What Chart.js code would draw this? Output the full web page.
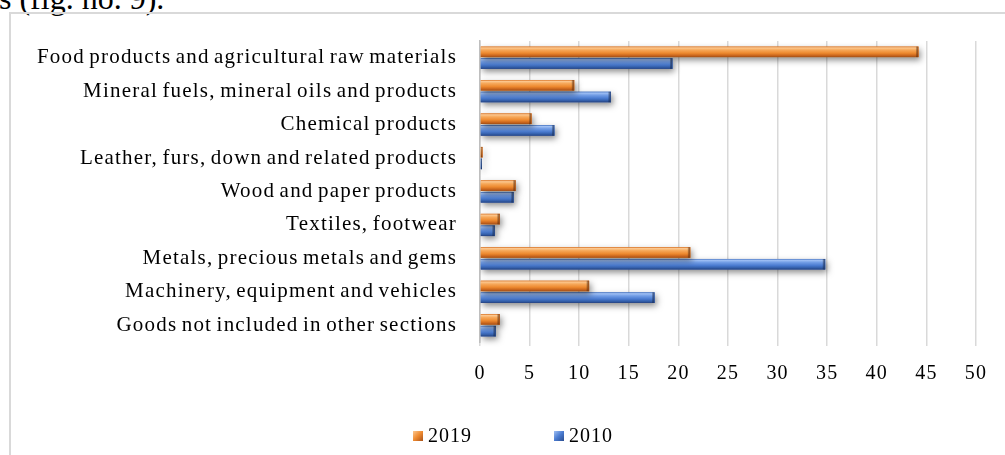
<!DOCTYPE html>
<html>
<head>
<meta charset="utf-8">
<script src="https://cdn.jsdelivr.net/npm/chart.js@4"></script>
<style>
  html, body { margin: 0; padding: 0; background: #fff; overflow: hidden; }
  body { width: 1005px; height: 455px; position: relative; }
  #caption {
    position: absolute; left: -1px; top: -18px;
    font-family: "Liberation Serif", "Times New Roman", serif;
    font-size: 32px; line-height: 32px; color: #000; white-space: nowrap;
  }
  #frame {
    position: absolute; left: 9px; top: 12px; width: 1010px; height: 460px;
    border: 2px solid #d9d9d9; box-sizing: border-box;
  }
  #chart { position: absolute; left: 0; top: 0; }
</style>
</head>
<body>
<div id="caption">s (fig. no. 9).</div>
<div id="frame"></div>
<canvas id="chart" width="1005" height="455"></canvas>
<script>
// Product groups, top to bottom
const categories = [
  'Food products and agricultural raw materials',
  'Mineral fuels, mineral oils and products',
  'Chemical products',
  'Leather, furs, down and related products',
  'Wood and paper products',
  'Textiles, footwear',
  'Metals, precious metals and gems',
  'Machinery, equipment and vehicles',
  'Goods not included in other sections'
];

// Shares by year, %
const values2019 = [44.2, 9.5, 5.2, 0.25, 3.6, 2.0, 21.2, 11.0, 2.0];
const values2010 = [19.4, 13.2, 7.5, 0.2, 3.4, 1.5, 34.8, 17.6, 1.6];

const seriesLabels = ['2019', '2010'];
const xTicks = [0, 5, 10, 15, 20, 25, 30, 35, 40, 45, 50];

const FONT = '"Liberation Serif", "Times New Roman", serif';

// Bevelled fills for each series
const palettes = [
  { base: '#ee8a30', stops: [[0, '#d67429'], [0.12, '#fcc890'], [0.32, '#f6a85a'], [0.62, '#ed892f'], [0.86, '#c6631c'], [1, '#9e4e18']], cap: '#a9531a' },
  { base: '#4a7bd0', stops: [[0, '#4673c0'], [0.12, '#a0c0f4'], [0.32, '#739ee6'], [0.62, '#4a7bd0'], [0.86, '#315ca6'], [1, '#253f7c']], cap: '#2b4d8f' }
];

// Tracked-out letters with tight word gaps for the axis labels
const axisTracking = {
  id: 'axisTracking',
  beforeDraw(chart) {
    chart.ctx.letterSpacing = '1.2px';
    chart.ctx.wordSpacing = '-2px';
  },
  beforeDatasetsDraw(chart) {
    chart.ctx.letterSpacing = '0px';
    chart.ctx.wordSpacing = '0px';
  }
};

// Draws each bar with a soft drop shadow, a vertical bevel gradient and a darker end cap
const bevelBars = {
  id: 'bevelBars',
  beforeDatasetDraw(chart, args) {
    const ctx = chart.ctx;
    const pal = palettes[args.index];
    const area = chart.chartArea;
    ctx.save();
    ctx.beginPath();
    ctx.rect(area.left, area.top - 5, area.right - area.left + 10, area.bottom - area.top + 10);
    ctx.clip();
    args.meta.data.forEach(el => {
      const p = el.getProps(['x', 'y', 'base', 'height'], true);
      const left = Math.min(p.base, p.x);
      const w = Math.abs(p.x - p.base);
      const top = p.y - p.height / 2;
      const h = p.height;
      // shadow
      ctx.save();
      ctx.shadowColor = 'rgba(0,0,0,0.45)';
      ctx.shadowBlur = 6;
      ctx.shadowOffsetX = 2;
      ctx.shadowOffsetY = 3;
      ctx.fillStyle = pal.base;
      ctx.fillRect(left, top, w, h);
      ctx.restore();
      // bevel body
      const g = ctx.createLinearGradient(0, top, 0, top + h);
      pal.stops.forEach(s => g.addColorStop(s[0], s[1]));
      ctx.fillStyle = g;
      ctx.fillRect(left, top, w, h);
      // end cap
      const capW = Math.min(3, w);
      const cg = ctx.createLinearGradient(p.x - capW, 0, p.x, 0);
      cg.addColorStop(0, 'rgba(0,0,0,0)');
      cg.addColorStop(1, pal.cap);
      ctx.fillStyle = cg;
      ctx.fillRect(p.x - capW, top, capW, h);
    });
    ctx.restore();
    return false;
  }
};

// Legend row under the plot
const bottomLegend = {
  id: 'bottomLegend',
  afterDraw(chart) {
    const ctx = chart.ctx;
    const box = 10, gap = 5, itemGap = 82, y = 437, centre = 513;
    ctx.save();
    ctx.letterSpacing = '1px';
    ctx.font = '20px ' + FONT;
    ctx.textBaseline = 'middle';
    const widths = chart.data.datasets.map(d => box + gap + ctx.measureText(d.label).width);
    const total = widths.reduce((a, b) => a + b, 0) + itemGap * (widths.length - 1);
    let x = centre - total / 2;
    chart.data.datasets.forEach((d, i) => {
      const pal = palettes[i];
      const top = y - box / 2 - 1;
      const g = ctx.createLinearGradient(x, top, x + box, top + box);
      g.addColorStop(0, pal.stops[1][1]);
      g.addColorStop(0.5, pal.base);
      g.addColorStop(1, pal.cap);
      ctx.fillStyle = g;
      ctx.fillRect(x, top, box, box);
      ctx.fillStyle = '#000';
      ctx.fillText(d.label, x + box + gap, y);
      x += widths[i] + itemGap;
    });
    ctx.restore();
  }
};

new Chart(document.getElementById('chart'), {
  type: 'bar',
  data: {
    labels: categories,
    datasets: [
      { label: seriesLabels[0], data: values2019, backgroundColor: palettes[0].base },
      { label: seriesLabels[1], data: values2010, backgroundColor: palettes[1].base }
    ]
  },
  options: {
    indexAxis: 'y',
    responsive: false,
    animation: false,
    events: [],
    categoryPercentage: 0.7,
    barPercentage: 0.9,
    layout: { padding: { top: 41, right: 29, left: 0, bottom: 0 } },
    plugins: { legend: { display: false }, tooltip: { enabled: false } },
    scales: {
      x: {
        min: 0, max: 50,
        afterBuildTicks(scale) { scale.ticks = xTicks.map(v => ({ value: v })); },
        afterFit(scale) { scale.height = 113; },
        grid: { color: '#d9d9d9', lineWidth: 1.5, tickLength: 4, drawTicks: true },
        border: { display: false },
        ticks: { color: '#000', font: { family: FONT, size: 20 }, padding: 16, maxRotation: 0 }
      },
      y: {
        afterFit(scale) { scale.width = 480; },
        grid: { display: false, drawTicks: false },
        border: { display: true, color: '#bfbfbf', width: 1.5 },
        ticks: { color: '#000', font: { family: FONT, size: 21 }, padding: 23, autoSkip: false }
      }
    }
  },
  plugins: [axisTracking, bevelBars, bottomLegend]
});
</script>
</body>
</html>
